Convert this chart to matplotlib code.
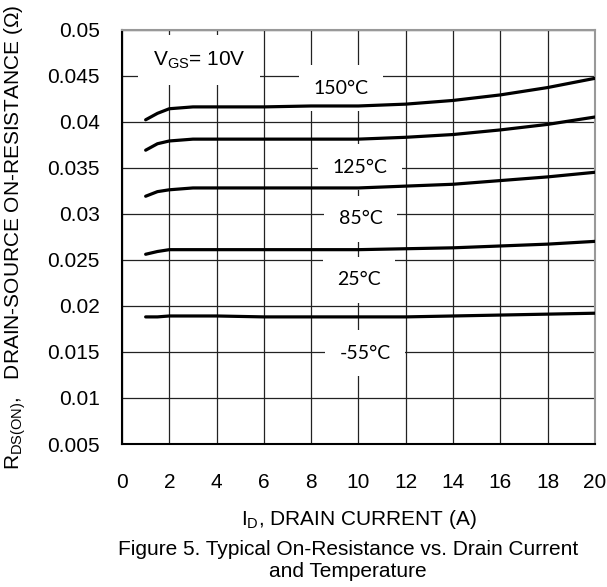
import matplotlib
matplotlib.use("Agg")
import matplotlib.pyplot as plt
from matplotlib.ticker import FuncFormatter

plt.rcParams['font.family'] = ['Liberation Sans', 'DejaVu Sans']
plt.rcParams['mathtext.default'] = 'regular'

# drain current (A)
current = [1, 1.5, 2, 3, 4, 6, 8, 10, 12, 14, 16, 18, 20]

# on-resistance (ohm) per junction temperature
r_150 = [0.0402, 0.0409, 0.0414, 0.0416, 0.0416, 0.0416, 0.0417, 0.0417, 0.0419, 0.0423, 0.0429, 0.0437, 0.0447]
r_125 = [0.0369, 0.0376, 0.0379, 0.0381, 0.0381, 0.0381, 0.0381, 0.0381, 0.0383, 0.0386, 0.0391, 0.0397, 0.0405]
r_85 = [0.0319, 0.0324, 0.0326, 0.0328, 0.0328, 0.0328, 0.0328, 0.0328, 0.0330, 0.0332, 0.0336, 0.0340, 0.0345]
r_25 = [0.0256, 0.0259, 0.0261, 0.0261, 0.0261, 0.0261, 0.0261, 0.0261, 0.0262, 0.0263, 0.0265, 0.0267, 0.0270]
r_m55 = [0.0188, 0.0188, 0.0189, 0.0189, 0.0189, 0.0188, 0.0188, 0.0188, 0.0188, 0.0189, 0.0190, 0.0191, 0.0192]

series = [r_150, r_125, r_85, r_25, r_m55]
labels = ['150°C', '125°C', '85°C', '25°C', '-55°C']
label_pos = [(9.26, 0.04365), (10.06, 0.03507), (10.1, 0.02943), (10.02, 0.02281), (10.27, 0.01488)]

x_ticks = list(range(0, 21, 2))
y_ticks = [0.005, 0.01, 0.015, 0.02, 0.025, 0.03, 0.035, 0.04, 0.045, 0.05]

fig = plt.figure(figsize=(6.07, 5.87), dpi=100)
ax = fig.add_axes([0.201, 0.2436, 0.779, 0.7061])

for vals in series:
    ax.plot(current, vals, color='black', lw=2.3, solid_capstyle='round', zorder=4)

ax.set_xlim(0, 20)
ax.set_ylim(0.005, 0.05)
ax.set_xticks(x_ticks)
ax.set_yticks(y_ticks)
ax.yaxis.set_major_formatter(FuncFormatter(lambda v, p: ('%.3f' % v).rstrip('0')))
ax.tick_params(axis='both', length=0, labelsize=15)
ax.tick_params(axis='x', pad=21)
ax.tick_params(axis='y', pad=16)

ax.grid(True, color='#222222', lw=0.9)
ax.set_axisbelow(True)
for side in ['left', 'bottom']:
    ax.spines[side].set_color('black')
    ax.spines[side].set_linewidth(1.5)
for side in ['top', 'right']:
    ax.spines[side].set_color('#999999')
    ax.spines[side].set_linewidth(1.5)

# labels with white boxes cutting the grid
for txt, (lx, ly) in zip(labels, label_pos):
    ax.text(lx, ly, txt, fontsize=14, family=['Lato', 'DejaVu Sans'], ha='center', va='center',
            zorder=3, bbox=dict(boxstyle='square,pad=0.75', fc='white', ec='none'))

ax.text(3.26, 0.04669, '$V_{GS}$= 10V', fontsize=15, ha='center', va='center', zorder=3,
        bbox=dict(boxstyle='square,pad=0.7', fc='white', ec='none'))

ax.set_xlabel('$I_D$, DRAIN CURRENT (A)', fontsize=15)
ax.xaxis.set_label_coords(0.5, -0.154)
ax.set_ylabel('$R_{DS(ON)}$,   DRAIN-SOURCE ON-RESISTANCE (Ω)', fontsize=15)
ax.yaxis.set_label_coords(-0.199, 0.5)

fig.text(0.573, 0.045, 'Figure 5. Typical On-Resistance vs. Drain Current\nand Temperature',
         fontsize=15, ha='center', va='center', linespacing=1.2)

fig.savefig('out.png', dpi=100)
